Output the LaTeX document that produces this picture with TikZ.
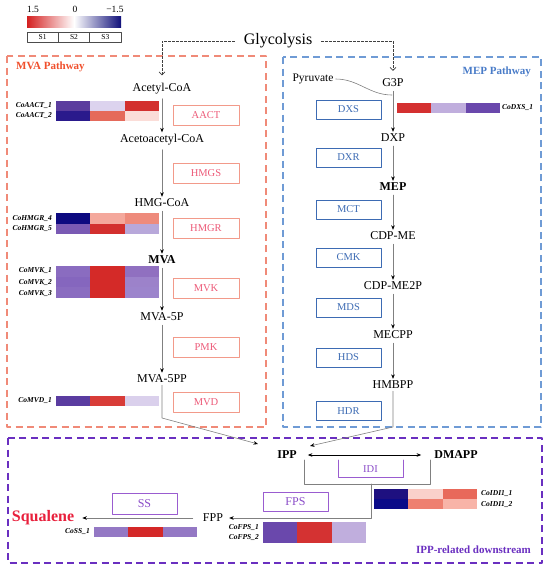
\documentclass[tikz,border=0pt]{standalone}
\usepackage{fontspec}
\setmainfont{Liberation Serif}
\usetikzlibrary{arrows.meta,positioning}
\definecolor{mvaline}{HTML}{F08A78}
\definecolor{mvatitle}{HTML}{F0502D}
\definecolor{mvaenz}{HTML}{F29A8A}
\definecolor{mvatext}{HTML}{EC5A78}
\definecolor{mepline}{HTML}{6F9BD5}
\definecolor{meptitle}{HTML}{4A7CC8}
\definecolor{mepenz}{HTML}{3D6BB3}
\definecolor{ippline}{HTML}{6A2FC0}
\definecolor{ippenz}{HTML}{9A5CD0}
\definecolor{ipptext}{HTML}{8A4CC8}
\definecolor{sqred}{HTML}{E8203C}
\definecolor{hmred}{HTML}{D42020}
\definecolor{hmnavy}{HTML}{10107A}
\newcommand{\heatrow}[4]{%
  \foreach \hc [count=\i from 0] in {#4}{%
    \edef\tmpcol{\noexpand\definecolor{cell}{HTML}{\hc}}\tmpcol
    \fill[cell] ({#1+\i*34.3},#2) rectangle ++(34.3,#3);}}
\begin{document}
\begin{tikzpicture}[x=1pt,y=-1pt,font=\fontsize{12}{14}\selectfont,line join=round,line cap=round,
	>={Stealth[length=4.5pt,width=3.6pt,color=black]},
	met/.style={inner sep=2pt},
	metb/.style={inner sep=2pt,font=\fontsize{12}{14}\selectfont\bfseries},
	flow/.style={->,draw=gray,line width=0.6pt},
	gly/.style={-{Straight Barb[length=3pt,width=6pt]},draw=black!75,line width=0.6pt,dash pattern=on 2.5pt off 1.5pt,line cap=butt},
	mvabox/.style={draw=mvaline,line width=1.2pt,dash pattern=on 7pt off 4.5pt,line cap=butt},
	mepbox/.style={draw=mepline,line width=1.2pt,dash pattern=on 7pt off 4.5pt,line cap=butt},
	ippbox/.style={draw=ippline,line width=1.6pt,dash pattern=on 7pt off 4.5pt,line cap=butt},
	mvaenzbox/.style={draw=mvaenz,text=mvatext,line width=0.9pt,minimum width=66pt,minimum height=20pt,inner sep=0pt,font=\fontsize{10.5}{12}\selectfont},
	mepenzbox/.style={draw=mepenz,text=mepenz,line width=0.9pt,minimum width=65pt,minimum height=19pt,inner sep=0pt,font=\fontsize{10.5}{12}\selectfont},
	ippenzbox/.style={draw=ippenz,text=ipptext,line width=0.9pt,minimum width=65pt,minimum height=20pt,inner sep=0pt,font=\fontsize{12}{14}\selectfont},
	gene/.style={inner sep=1pt,font=\fontsize{7.5}{8}\selectfont\bfseries\itshape},
	pathtitle/.style={inner sep=0pt,font=\fontsize{11}{13}\selectfont\bfseries},
	legcell/.style={draw=black!70,line width=0.5pt,minimum width=31.33pt,minimum height=10pt,inner sep=0pt,outer sep=0pt,font=\fontsize{7.5}{8}\selectfont}]
	\useasboundingbox (0,0) rectangle (550,574);
	%Chú thích màu
	\shade[left color=hmred,right color=hmnavy,middle color=white] (27,16) rectangle (121,27);
	\node[inner sep=0pt,font=\fontsize{9.5}{11}\selectfont] (vmax) at (33,9.5) {1.5};
	\node[inner sep=0pt,font=\fontsize{9.5}{11}\selectfont] (vzero) at (75,9.5) {0};
	\node[inner sep=0pt,font=\fontsize{9.5}{11}\selectfont] (vmin) at (115,9.5) {−1.5};
	\node[legcell] (s1) at (42.67,37) {S1};
	\node[legcell,right=0pt of s1] (s2) {S2};
	\node[legcell,right=0pt of s2] (s3) {S3};
	%Các khung
	\draw[mvabox] (7,56) rectangle (266,427);
	\draw[mepbox] (283,57) rectangle (541,427);
	\draw[ippbox] (8,438) rectangle (542,563);
	\node[pathtitle,text=mvatitle,anchor=west] (mvatitle) at (16,67) {MVA Pathway};
	\node[pathtitle,text=meptitle,anchor=east] (meptitle) at (531,72) {MEP Pathway};
	\node[pathtitle,text=ippline,anchor=east] (ipptitle) at (531,550) {IPP-related downstream};
	%Glycolysis
	\node[font=\fontsize{16}{18}\selectfont,inner sep=9pt] (glyco) at (278,41) {Glycolysis};
	%Con đường MVA
	\node[met] (acetyl) at (162,89) {Acetyl-CoA};
	\node[met] (acac) at (162,140) {Acetoacetyl-CoA};
	\node[met] (hmgcoa) at (162,203) {HMG-CoA};
	\node[metb] (mva) at (162,260) {MVA};
	\node[met] (mvafp) at (162,317) {MVA-5P};
	\node[met] (mvafpp) at (162,379) {MVA-5PP};
	\draw[flow,shorten <=2pt] (acetyl) -- (acac);
	\draw[flow,shorten <=2pt] (acac) -- (hmgcoa);
	\draw[flow,shorten <=2pt] (hmgcoa) -- (mva);
	\draw[flow,shorten <=2pt] (mva) -- (mvafp);
	\draw[flow,shorten <=2pt] (mvafp) -- (mvafpp);
	\node[mvaenzbox] (aact) at (206,115) {AACT};
	\node[mvaenzbox] (hmgs) at (206,173.5) {HMGS};
	\node[mvaenzbox] (hmgr) at (206,228) {HMGR};
	\node[mvaenzbox] (mvk) at (206,288) {MVK};
	\node[mvaenzbox] (pmk) at (206,347) {PMK};
	\node[mvaenzbox] (mvd) at (206,402) {MVD};
	%Con đường MEP
	\node[met,font=\fontsize{11.5}{13}\selectfont] (pyr) at (313,79) {Pyruvate};
	\node[met] (g3p) at (393,83) {G3P};
	\node[met] (dxp) at (393,138) {DXP};
	\node[metb] (mep) at (393,187) {MEP};
	\node[met] (cdpme) at (393,236) {CDP-ME};
	\node[met] (cdpmep) at (393,286) {CDP-ME2P};
	\node[met] (mecpp) at (393,335) {MECPP};
	\node[met] (hmbpp) at (393,385) {HMBPP};
	\coordinate (pyrin) at (392,95);
	\draw[gray,line width=0.6pt] (pyr.east) to[out=0,in=180] (pyrin);
	\draw[flow,shorten <=2pt] (g3p) -- (dxp);
	\draw[flow,shorten <=2pt] (dxp) -- (mep);
	\draw[flow,shorten <=2pt] (mep) -- (cdpme);
	\draw[flow,shorten <=2pt] (cdpme) -- (cdpmep);
	\draw[flow,shorten <=2pt] (cdpmep) -- (mecpp);
	\draw[flow,shorten <=2pt] (mecpp) -- (hmbpp);
	\node[mepenzbox] (dxs) at (348.5,109.5) {DXS};
	\node[mepenzbox] (dxr) at (348.5,157.5) {DXR};
	\node[mepenzbox] (mct) at (348.5,209.5) {MCT};
	\node[mepenzbox] (cmk) at (348.5,257.5) {CMK};
	\node[mepenzbox] (mds) at (348.5,307.5) {MDS};
	\node[mepenzbox] (hds) at (348.5,357.5) {HDS};
	\node[mepenzbox] (hdr) at (348.5,411) {HDR};
	%Mũi tên từ Glycolysis
	\draw[gly,shorten >=6pt] (glyco.west) -| (acetyl.north);
	\draw[gly,shorten >=6pt] (glyco.east) -| (g3p.north);
	%Phần IPP
	\node[metb] (ipp) at (287,455) {IPP};
	\node[metb] (dmapp) at (456,455) {DMAPP};
	\node[met] (fpp) at (213,518) {FPP};
	\node[inner sep=2pt,text=sqred,font=\fontsize{16}{18}\selectfont\bfseries] (squalene) at (43,518) {Squalene};
	\coordinate (mvabend) at (162,418);
	\coordinate (ippinl) at (258,444);
	\coordinate (mepbend) at (393,427);
	\coordinate (ippinr) at (310,446);
	\draw[flow] (mvafpp) -- (mvabend) -- (ippinl);
	\draw[flow] (hmbpp) -- (mepbend) -- (ippinr);
	\draw[<->,black,line width=0.6pt,shorten <=9pt,shorten >=11pt] (ipp) -- (dmapp);
	\draw[gray,line width=0.6pt] (304,460) |- (430,484) -- (430,460);
	\coordinate (idijoin) at (371,484);
	\draw[flow,shorten >=4pt] (idijoin) |- (fpp);
	\draw[flow,shorten <=8pt,shorten >=6pt] (fpp) -- (squalene);
	\draw[ippenz,line width=0.9pt] (338,460) |- (403,477) -- (403,460);
	\node[inner sep=0pt,text=ipptext,font=\fontsize{10.5}{12}\selectfont] (idi) at (370.5,469) {IDI};
	\node[ippenzbox,minimum height=19pt] (fps) at (295.5,501.5) {FPS};
	\node[ippenzbox,minimum height=21pt] (ss) at (144.5,503.5) {SS};
	%Bản đồ nhiệt
	\heatrow{56}{101}{10}{5B3D9E,DCD3EE,D3302E}
	\heatrow{56}{111}{10}{2A1A8C,E56A5B,FBDDD8}
	\heatrow{56}{213}{10.5}{0D0A80,F4A89C,EE8B7C}
	\heatrow{56}{223.5}{10.5}{7A5AB4,D3302E,B8A8DA}
	\heatrow{56}{266}{10.7}{8A6CC0,D42A28,9070C0}
	\heatrow{56}{276.7}{10.7}{8566BE,D42A28,9C82CA}
	\heatrow{56}{287.4}{10.7}{8A6CC0,D42A28,9C84CC}
	\heatrow{56}{396}{9.5}{5A3CA0,D83C38,DAD0EC}
	\heatrow{397}{103}{10}{D43030,C0AEDD,6A48AC}
	\heatrow{374}{489}{10}{1E1080,FAD0CA,E8695A}
	\heatrow{374}{499}{10}{0A0A88,EE8070,F8B4A8}
	\heatrow{263}{522}{10.5}{6A48AC,D43232,C0AEDD}
	\heatrow{263}{532.5}{10.5}{6A48AC,D43232,C0AEDD}
	\heatrow{94}{527}{10}{9478C4,D42828,9478C4}
	%Tên gen
	\node[gene,anchor=east] (gaact1) at (53,106) {CoAACT\_1};
	\node[gene,anchor=east] (gaact2) at (53,116) {CoAACT\_2};
	\node[gene,anchor=east] (ghmgr4) at (53,218.5) {CoHMGR\_4};
	\node[gene,anchor=east] (ghmgr5) at (53,229) {CoHMGR\_5};
	\node[gene,anchor=east] (gmvk1) at (53,271) {CoMVK\_1};
	\node[gene,anchor=east] (gmvk2) at (53,282.5) {CoMVK\_2};
	\node[gene,anchor=east] (gmvk3) at (53,294) {CoMVK\_3};
	\node[gene,anchor=east] (gmvd1) at (53,401) {CoMVD\_1};
	\node[gene,anchor=west] (gdxs1) at (501,108) {CoDXS\_1};
	\node[gene,anchor=west] (gidi1) at (480,494) {CoIDI1\_1};
	\node[gene,anchor=west] (gidi2) at (480,505) {CoIDI1\_2};
	\node[gene,anchor=east] (gfps1) at (260,528) {CoFPS\_1};
	\node[gene,anchor=east] (gfps2) at (260,538) {CoFPS\_2};
	\node[gene,anchor=east] (gss1) at (91,532) {CoSS\_1};
\end{tikzpicture}
\end{document}
